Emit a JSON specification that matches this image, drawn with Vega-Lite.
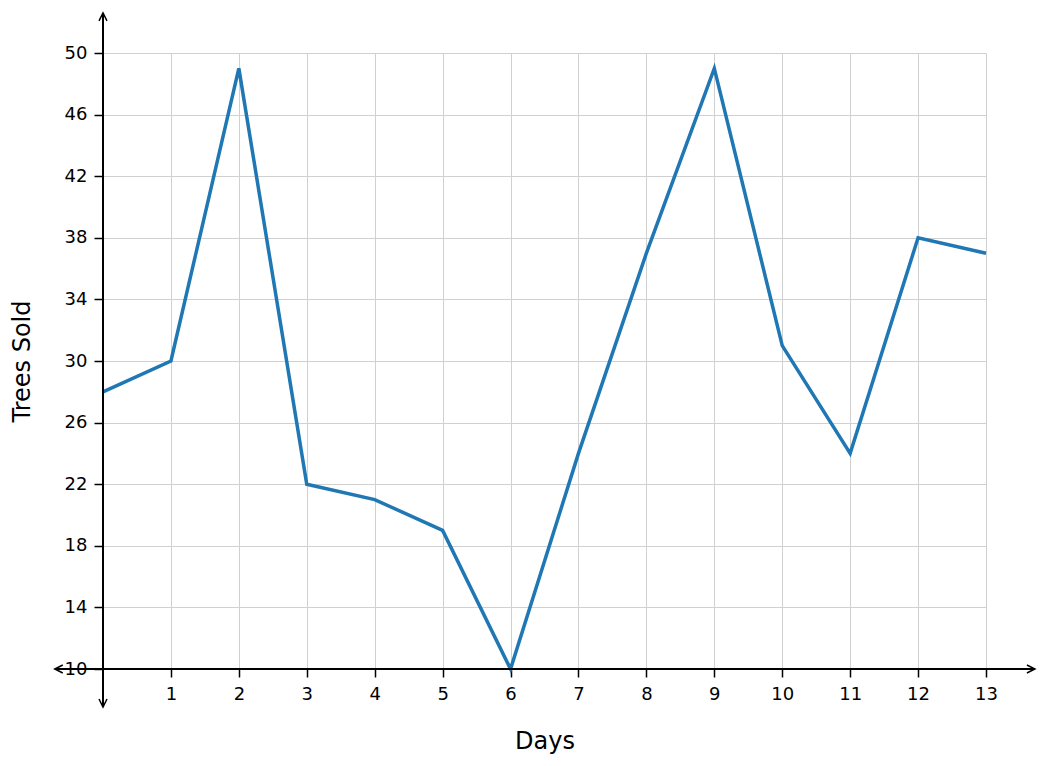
{
  "$schema": "https://vega.github.io/schema/vega-lite/v6.json",
  "width": 883,
  "height": 616,
  "autosize": {"type": "none"},
  "padding": {"left": 103, "top": 53, "right": 59, "bottom": 97},
  "background": "white",
  "config": {
    "view": {"stroke": null},
    "font": "DejaVu Sans",
    "axis": {
      "domain": false,
      "grid": true,
      "gridColor": "#d0d0d0",
      "gridWidth": 1,
      "tickColor": "black",
      "tickWidth": 1.5,
      "labelFont": "DejaVu Sans",
      "labelFontSize": 18,
      "labelColor": "black",
      "labelFlush": false,
      "labelOverlap": false,
      "titleFont": "DejaVu Sans",
      "titleFontSize": 24,
      "titleFontWeight": "normal",
      "titleColor": "black"
    },
    "axisX": {"tickSize": 8, "labelPadding": 8},
    "axisY": {"tickSize": 9, "labelPadding": 7}
  },
  "datasets": {
    "sales": [
      {"day": 0, "trees": 28},
      {"day": 1, "trees": 30},
      {"day": 2, "trees": 49},
      {"day": 3, "trees": 22},
      {"day": 4, "trees": 21},
      {"day": 5, "trees": 19},
      {"day": 6, "trees": 10},
      {"day": 7, "trees": 24},
      {"day": 8, "trees": 37},
      {"day": 9, "trees": 49},
      {"day": 10, "trees": 31},
      {"day": 11, "trees": 24},
      {"day": 12, "trees": 38},
      {"day": 13, "trees": 37}
    ]
  },
  "layer": [
    {
      "data": {"name": "sales"},
      "mark": {"type": "line", "color": "#1f77b4", "strokeWidth": 3.5},
      "encoding": {
        "x": {
          "field": "day", "type": "quantitative", "title": "Days",
          "scale": {"domain": [0, 13], "nice": false, "zero": false},
          "axis": {"values": [1,2,3,4,5,6,7,8,9,10,11,12,13], "format": "d", "labelFlush": false, "titleY": 72, "titleBaseline": "middle"}
        },
        "y": {
          "field": "trees", "type": "quantitative", "title": "Trees Sold",
          "scale": {"domain": [10, 50], "nice": false, "zero": false},
          "axis": {"values": [10,14,18,22,26,30,34,38,42,46,50], "format": "d", "labelFlush": false, "titleX": -81, "titleY": 308, "titleBaseline": "middle", "titleAngle": -90}
        }
      }
    },
    {
      "data": {"values": [{}]},
      "mark": {"type": "rule", "color": "black", "strokeWidth": 2},
      "encoding": {
        "x": {"datum": 0, "type": "quantitative", "title": "Days"},
        "y": {"datum": 7.53, "type": "quantitative", "title": "Trees Sold"},
        "y2": {"datum": 52.6}
      }
    },
    {
      "data": {"values": [{}]},
      "mark": {"type": "rule", "color": "black", "strokeWidth": 2},
      "encoding": {
        "x": {"datum": -0.71, "type": "quantitative", "title": "Days"},
        "x2": {"datum": 13.72},
        "y": {"datum": 10, "type": "quantitative", "title": "Trees Sold"}
      }
    },
    {
      "data": {"values": [{}]},
      "mark": {"type": "point", "shape": "M-0.5,1L0,0L0.5,1", "filled": false, "stroke": "black", "strokeWidth": 1.5, "size": 256, "opacity": 1},
      "encoding": {
        "x": {"datum": 0, "type": "quantitative", "title": "Days"},
        "y": {"datum": 52.6, "type": "quantitative", "title": "Trees Sold"}
      }
    },
    {
      "data": {"values": [{}]},
      "mark": {"type": "point", "shape": "M-0.5,-1L0,0L0.5,-1", "filled": false, "stroke": "black", "strokeWidth": 1.5, "size": 256, "opacity": 1},
      "encoding": {
        "x": {"datum": 0, "type": "quantitative", "title": "Days"},
        "y": {"datum": 7.53, "type": "quantitative", "title": "Trees Sold"}
      }
    },
    {
      "data": {"values": [{}]},
      "mark": {"type": "point", "shape": "M1,-0.5L0,0L1,0.5", "filled": false, "stroke": "black", "strokeWidth": 1.5, "size": 256, "opacity": 1},
      "encoding": {
        "x": {"datum": -0.71, "type": "quantitative", "title": "Days"},
        "y": {"datum": 10, "type": "quantitative", "title": "Trees Sold"}
      }
    },
    {
      "data": {"values": [{}]},
      "mark": {"type": "point", "shape": "M-1,-0.5L0,0L-1,0.5", "filled": false, "stroke": "black", "strokeWidth": 1.5, "size": 256, "opacity": 1},
      "encoding": {
        "x": {"datum": 13.72, "type": "quantitative", "title": "Days"},
        "y": {"datum": 10, "type": "quantitative", "title": "Trees Sold"}
      }
    }
  ]
}
